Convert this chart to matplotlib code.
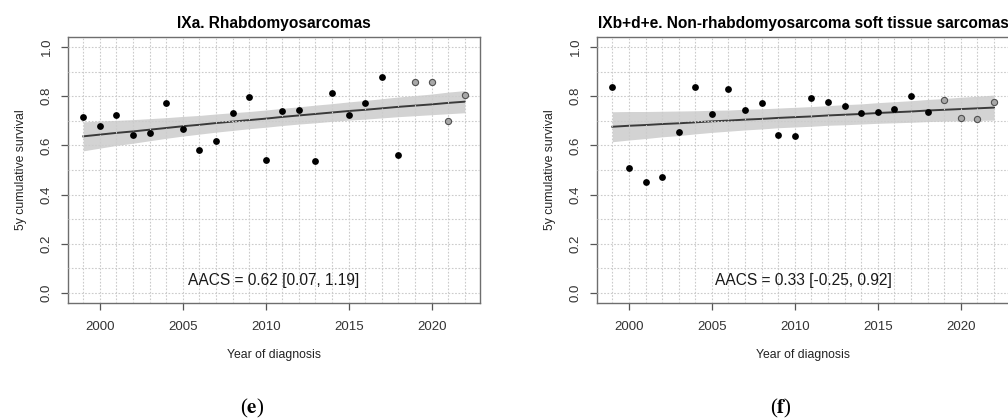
import numpy as np
import matplotlib.pyplot as plt

plt.rcParams['font.family'] = ['Liberation Sans', 'DejaVu Sans']
plt.rcParams['mathtext.fontset'] = 'stix'

years = list(range(1999, 2023))
n_obs = 20          # first 20 years are complete follow-up, last 4 are projected (grey)

# IXa. Rhabdomyosarcomas
rms_surv = [0.716, 0.678, 0.725, 0.644, 0.649, 0.774, 0.667, 0.582, 0.618, 0.732,
            0.796, 0.540, 0.739, 0.746, 0.538, 0.812, 0.722, 0.773, 0.879, 0.563,
            0.860, 0.860, 0.701, 0.804]
rms_fit = [0.637, 0.644, 0.651, 0.657, 0.664, 0.671, 0.678, 0.684, 0.691, 0.697,
           0.703, 0.709, 0.716, 0.722, 0.728, 0.734, 0.740, 0.745, 0.751, 0.757,
           0.762, 0.767, 0.773, 0.778]
rms_lo = [0.578, 0.589, 0.600, 0.609, 0.619, 0.629, 0.638, 0.646, 0.654, 0.661,
          0.668, 0.674, 0.681, 0.687, 0.692, 0.698, 0.703, 0.707, 0.712, 0.717,
          0.721, 0.725, 0.729, 0.733]
rms_hi = [0.696, 0.699, 0.702, 0.705, 0.709, 0.713, 0.718, 0.722, 0.728, 0.733,
          0.738, 0.744, 0.751, 0.757, 0.764, 0.770, 0.777, 0.783, 0.790, 0.797,
          0.803, 0.809, 0.817, 0.823]

# IXb+d+e. Non-rhabdomyosarcoma soft tissue sarcomas
nrsts_surv = [0.838, 0.510, 0.453, 0.472, 0.655, 0.836, 0.729, 0.831, 0.744, 0.771,
              0.641, 0.638, 0.793, 0.778, 0.762, 0.733, 0.736, 0.749, 0.802, 0.736,
              0.784, 0.713, 0.708, 0.777]
nrsts_fit = [0.676, 0.680, 0.683, 0.687, 0.690, 0.694, 0.698, 0.701, 0.705, 0.708,
             0.712, 0.715, 0.718, 0.722, 0.725, 0.728, 0.732, 0.735, 0.738, 0.742,
             0.745, 0.748, 0.751, 0.754]
nrsts_lo = [0.615, 0.622, 0.628, 0.635, 0.640, 0.647, 0.653, 0.658, 0.663, 0.667,
            0.672, 0.675, 0.678, 0.682, 0.684, 0.687, 0.690, 0.692, 0.694, 0.697,
            0.699, 0.700, 0.702, 0.703]
nrsts_hi = [0.737, 0.738, 0.738, 0.739, 0.740, 0.741, 0.743, 0.744, 0.747, 0.749,
            0.752, 0.755, 0.758, 0.762, 0.766, 0.769, 0.774, 0.778, 0.782, 0.787,
            0.791, 0.796, 0.800, 0.805]

titles = ['IXa. Rhabdomyosarcomas',
          'IXb+d+e. Non-rhabdomyosarcoma soft tissue sarcomas']
aacs = ['AACS = 0.62 [0.07, 1.19]', 'AACS = 0.33 [-0.25, 0.92]']
captions = ['e', 'f']

panels = [(rms_surv, rms_fit, rms_lo, rms_hi),
          (nrsts_surv, nrsts_fit, nrsts_lo, nrsts_hi)]
boxes = [[0.0675, 0.2758, 0.4087, 0.635],
         [0.5923, 0.2758, 0.4090, 0.635]]

fig = plt.figure(figsize=(10.08, 4.18), dpi=100)

for i, (surv, fit, lo, hi) in enumerate(panels):
    ax = fig.add_axes(boxes[i])
    yr = np.array(years)
    s = np.array(surv)

    ax.fill_between(yr, lo, hi, color='#d3d3d3', lw=0, zorder=1)
    ax.plot(yr, fit, color='#3a3a3a', lw=1.4, zorder=2)

    # dotted reference grid, one line per year and per 0.1
    for x in years:
        ax.axvline(x, color='#cbcbcb', lw=0.8, ls=(0, (1.5, 1.5)), zorder=3)
    for y in np.arange(0, 1.01, 0.1):
        ax.axhline(y, color='#cbcbcb', lw=0.8, ls=(0, (1.5, 1.5)), zorder=3)

    ax.scatter(yr[:n_obs], s[:n_obs], s=24, color='black', lw=0, zorder=4)
    ax.scatter(yr[n_obs:], s[n_obs:], s=20, color='#a8a8a8',
               edgecolor='#505050', lw=0.8, zorder=4)

    ax.text(2010.5, 0.05, aacs[i], ha='center', va='center', fontsize=11.2,
            color='#1a1a1a', zorder=5)

    ax.set_xlim(1998.08, 2022.92)
    ax.set_ylim(-0.04, 1.04)
    ax.set_xticks([2000, 2005, 2010, 2015, 2020])
    ax.set_yticks([0.0, 0.2, 0.4, 0.6, 0.8, 1.0])
    ax.set_yticklabels(['0.0', '0.2', '0.4', '0.6', '0.8', '1.0'],
                       rotation=90, va='center')
    ax.tick_params(direction='out', length=5, width=0.9, color='#555555',
                   labelcolor='#333333', labelsize=9.5)
    ax.tick_params(axis='x', pad=8)
    ax.tick_params(axis='y', pad=6)
    for sp in ax.spines.values():
        sp.set_color('#6e6e6e')
        sp.set_linewidth(1.0)

    ax.set_title(titles[i], fontsize=11.2, fontweight='bold', pad=7)
    ax.set_xlabel('Year of diagnosis', fontsize=8.8, color='#222222', labelpad=12)
    ax.set_ylabel('5y cumulative survival', fontsize=8.8, color='#222222',
                  labelpad=10)

    cx = boxes[i][0] + boxes[i][2] / 2 - 22 / 1008
    fig.text(cx, 1 - 408 / 418, '($\\mathbf{' + captions[i] + '}$)',
             ha='center', va='center', fontsize=15, family='Liberation Serif')

fig.savefig('out.png', dpi=100)
